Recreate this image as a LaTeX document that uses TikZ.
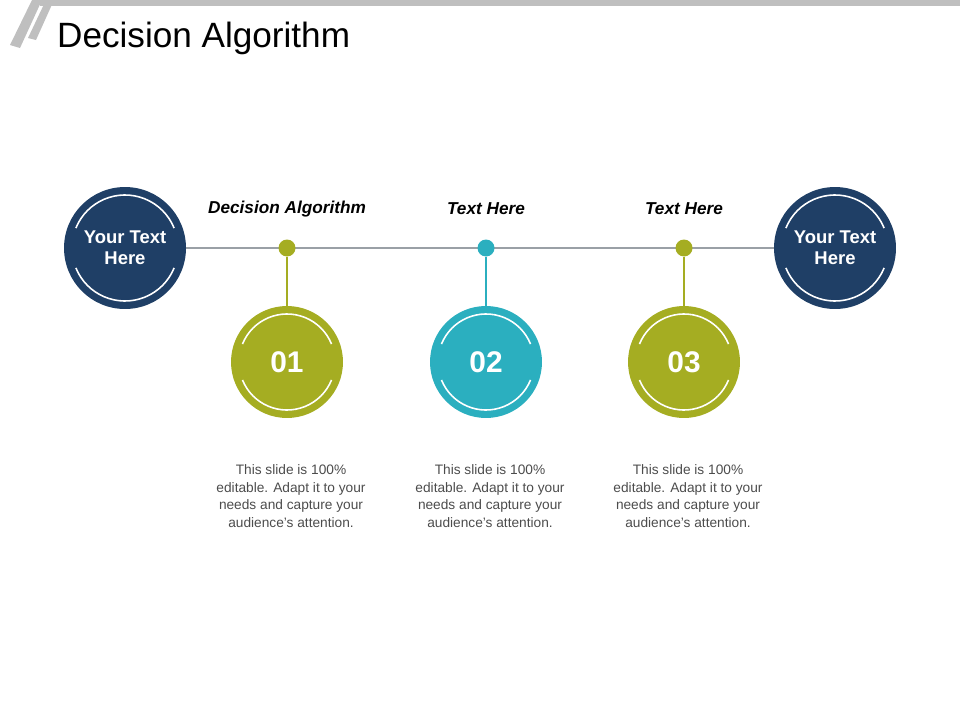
\documentclass[tikz,border=0pt]{standalone}
\usepackage{fontspec}
\setmainfont{Liberation Sans}
\usetikzlibrary{positioning}
\definecolor{navy}{HTML}{1F3F66}
\definecolor{olive}{HTML}{A5AD22}
\definecolor{teal}{HTML}{2BAFBF}
\definecolor{rule}{HTML}{9AA0A6}
\begin{document}
\begin{tikzpicture}[x=0.02cm, y=-0.02cm,
  endcircle/.style = {circle, fill=navy, minimum size=2.44cm, inner sep=0pt,
    text=white, font=\fontsize{10.5}{12}\selectfont\bfseries, align=center},
  stepcircle/.style = {circle, minimum size=2.24cm, inner sep=0pt,
    text=white, font=\fontsize{17}{19}\selectfont\bfseries},
  dot/.style = {circle, minimum size=0.34cm, inner sep=0pt},
  toplabel/.style = {font=\fontsize{9.8}{12}\selectfont\bfseries\itshape},
  bodytext/.style = {font=\fontsize{7.8}{10}\selectfont, text=black!70, align=center},
  arcs/.style = {white, line width=0.9pt}
]
\useasboundingbox (0,0) rectangle (960,720);

% Header decoration
\fill[black!25] (40,0) rectangle (960,6);
\fill[black!25] (10,45) -- (32,0) -- (42,0) -- (20,48) -- cycle;
\fill[black!25] (28,38) -- (46,0) -- (54,0) -- (36,40) -- cycle;
\node[anchor=west, font=\fontsize{20}{22}\selectfont] (title) at (51,38) {Decision Algorithm};

% Timeline
\draw[rule, line width=0.6pt] (125,248) -- (835,248);

% End circles
\node[endcircle] (L) at (125,248) {Your Text\\Here};
\node[endcircle] (R) at (835,248) {Your Text\\Here};

% Steps
\foreach \x/\n/\c/\lab [count=\i] in {287/01/olive/Decision Algorithm, 486/02/teal/Text Here, 684/03/olive/Text Here} {
  \node[dot, fill=\c] (d\i) at (\x,248) {};
  \node[stepcircle, fill=\c] (s\i) at (\x,362) {\n};
  \draw[\c, line width=0.8pt] (d\i) -- (s\i);
  \node[toplabel] (t\i) at (\x,209) {\lab};
  \node[bodytext] (b\i) at (\x+4,496) {This slide is 100\%\\editable. Adapt it to your\\needs and capture your\\audience's attention.};
  \draw[arcs] (s\i.center) ++(158:48) arc[start angle=158, end angle=22, radius=48];
  \draw[arcs] (s\i.center) ++(202:48) arc[start angle=202, end angle=338, radius=48];
}

% Arcs on end circles
\foreach \e in {L,R} {
  \draw[arcs] (\e.center) ++(158:53) arc[start angle=158, end angle=22, radius=53];
  \draw[arcs] (\e.center) ++(202:53) arc[start angle=202, end angle=338, radius=53];
}
\end{tikzpicture}
\end{document}
